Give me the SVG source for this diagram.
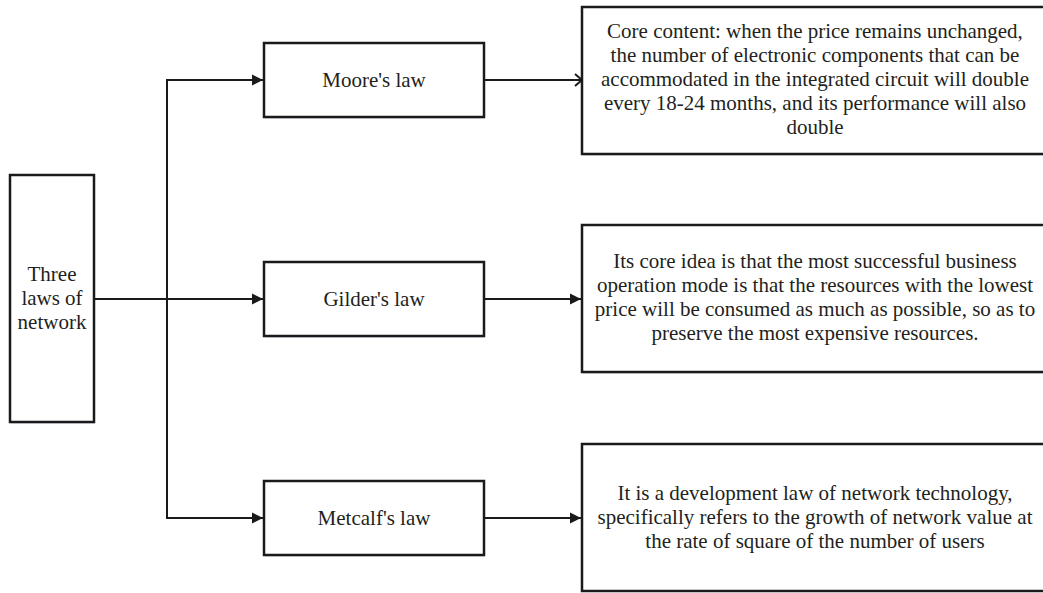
<svg xmlns="http://www.w3.org/2000/svg" width="1043" height="593" viewBox="0 0 1043 593">
<defs>
<marker id="tri" markerWidth="12" markerHeight="12" refX="11" refY="6" orient="auto" markerUnits="userSpaceOnUse">
<path d="M0,0.5 L11,6 L0,11.5 Z" fill="#1a1a1a"/>
</marker>
<marker id="vee" markerWidth="12" markerHeight="14" refX="10" refY="7" orient="auto" markerUnits="userSpaceOnUse">
<path d="M3,1 L10,7 L3,13" fill="none" stroke="#1a1a1a" stroke-width="2"/>
</marker>
</defs>
<style>
.box{fill:#ffffff;stroke:#1a1a1a;stroke-width:2.5}
.sh{fill:#e3eaf3}
.t{font-family:"Liberation Serif","Times New Roman",serif;font-size:21px;fill:#231f20;text-anchor:middle}
.c{fill:none;stroke:#1a1a1a;stroke-width:2}
</style>
<rect width="1043" height="593" fill="#ffffff"/>
<g id="connectors">
<path class="c" d="M94,299 H263" marker-end="url(#tri)"/>
<path class="c" d="M264,80 H167 V518 H263" marker-end="url(#tri)"/>
<path class="c" d="M167,80 H263" marker-end="url(#tri)"/>
<path class="c" d="M484,80 H582" marker-end="url(#vee)"/>
<path class="c" d="M484,299 H581" marker-end="url(#tri)"/>
<path class="c" d="M484,518 H581" marker-end="url(#tri)"/>
</g>
<g id="three-laws">
<rect class="sh" x="11" y="176" width="84" height="248"/>
<rect class="box" x="10" y="175" width="84" height="247"/>
<text class="t" x="52" y="281">Three</text>
<text class="t" x="52" y="305">laws of</text>
<text class="t" x="52" y="329">network</text>
</g>
<g id="moore">
<rect class="sh" x="265" y="44" width="220" height="75"/>
<rect class="box" x="264" y="43" width="220" height="74"/>
<text class="t" x="374" y="87">Moore's law</text>
</g>
<g id="gilder">
<rect class="sh" x="265" y="263" width="220" height="75"/>
<rect class="box" x="264" y="262" width="220" height="74"/>
<text class="t" x="374" y="306">Gilder's law</text>
</g>
<g id="metcalf">
<rect class="sh" x="265" y="482" width="220" height="75"/>
<rect class="box" x="264" y="481" width="220" height="74"/>
<text class="t" x="374" y="525">Metcalf's law</text>
</g>
<g id="moore-desc">
<rect class="sh" x="583" y="8" width="470" height="148"/>
<rect class="box" x="582" y="7" width="470" height="147"/>
<text class="t" x="815" y="38">Core content: when the price remains unchanged,</text>
<text class="t" x="815" y="62">the number of electronic components that can be</text>
<text class="t" x="815" y="86">accommodated in the integrated circuit will double</text>
<text class="t" x="815" y="110">every 18-24 months, and its performance will also</text>
<text class="t" x="815" y="134">double</text>
</g>
<g id="gilder-desc">
<rect class="sh" x="583" y="226" width="470" height="148"/>
<rect class="box" x="582" y="225" width="470" height="147"/>
<text class="t" x="815" y="268">Its core idea is that the most successful business</text>
<text class="t" x="815" y="292">operation mode is that the resources with the lowest</text>
<text class="t" x="815" y="316">price will be consumed as much as possible, so as to</text>
<text class="t" x="815" y="340">preserve the most expensive resources.</text>
</g>
<g id="metcalf-desc">
<rect class="box" x="582" y="444" width="470" height="147"/>
<text class="t" x="815" y="500">It is a development law of network technology,</text>
<text class="t" x="815" y="524">specifically refers to the growth of network value at</text>
<text class="t" x="815" y="548">the rate of square of the number of users</text>
</g>
</svg>
